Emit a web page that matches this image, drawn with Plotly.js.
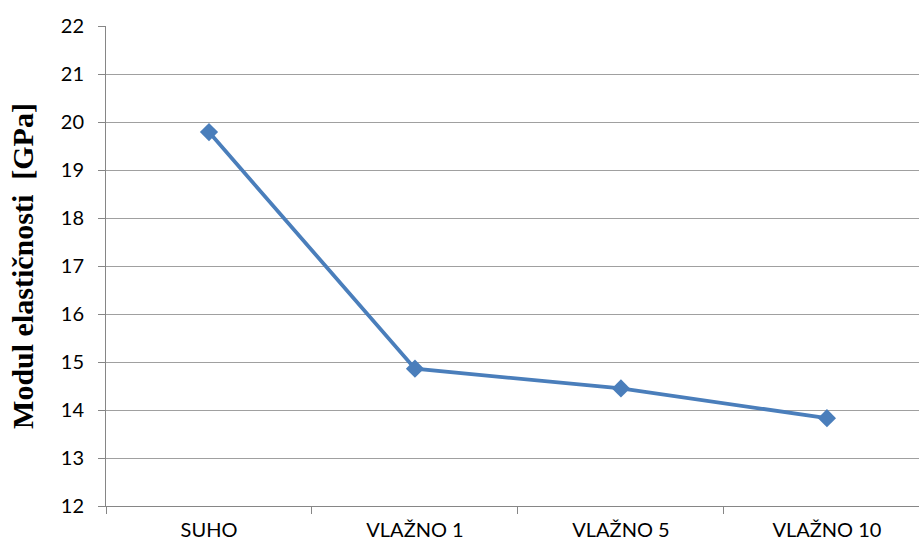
<!DOCTYPE html>
<html>
<head>
<meta charset="utf-8">
<script src="https://cdn.plot.ly/plotly-3.0.1.min.js"></script>
<style>html,body{margin:0;padding:0;background:#fff;}#chart{width:919px;height:544px;}</style>
</head>
<body>
<div id="chart"></div>
<script>
const categories = ["SUHO", "VLAŽNO 1", "VLAŽNO 5", "VLAŽNO 10"];
const modulValues = [19.79, 14.86, 14.45, 13.83];
const yTickValues = [12, 13, 14, 15, 16, 17, 18, 19, 20, 21, 22];

const trace = {
  x: categories,
  y: modulValues,
  type: "scatter",
  mode: "lines+markers",
  line: {color: "#4a7ebb", width: 3.8},
  marker: {symbol: "diamond", size: 14, color: "#4a7ebb"},
  hoverinfo: "skip"
};

const tickFont = {family: "Lato, 'Liberation Sans', sans-serif", size: 20, color: "#000"};

const layout = {
  width: 919,
  height: 544,
  margin: {l: 106, r: 0, t: 26, b: 38},
  paper_bgcolor: "#ffffff",
  plot_bgcolor: "#ffffff",
  showlegend: false,
  xaxis: {
    type: "category",
    range: [-0.5, 3.447],
    showgrid: false,
    showline: true,
    linecolor: "#868686",
    linewidth: 1,
    ticks: "outside",
    tickson: "boundaries",
    ticklen: 7,
    tickcolor: "#868686",
    ticklabelstandoff: 6,
    tickfont: tickFont,
    zeroline: false,
    automargin: false,
    fixedrange: true
  },
  yaxis: {
    range: [12, 22],
    tickvals: yTickValues,
    ticktext: yTickValues.map(String),
    showgrid: true,
    gridcolor: "#a0a0a0",
    gridwidth: 1,
    showline: true,
    linecolor: "#868686",
    linewidth: 1,
    ticks: "outside",
    ticklen: 7,
    tickcolor: "#868686",
    ticklabelstandoff: 10,
    tickfont: tickFont,
    zeroline: false,
    automargin: false,
    fixedrange: true,
    title: {
      text: "Modul elastičnosti  [GPa]",
      font: {family: "'Liberation Serif', 'Times New Roman', serif", size: 30, color: "#000", weight: "bold"},
      standoff: 18
    }
  }
};

Plotly.newPlot("chart", [trace], layout, {staticPlot: true, displayModeBar: false});
</script>
</body>
</html>
